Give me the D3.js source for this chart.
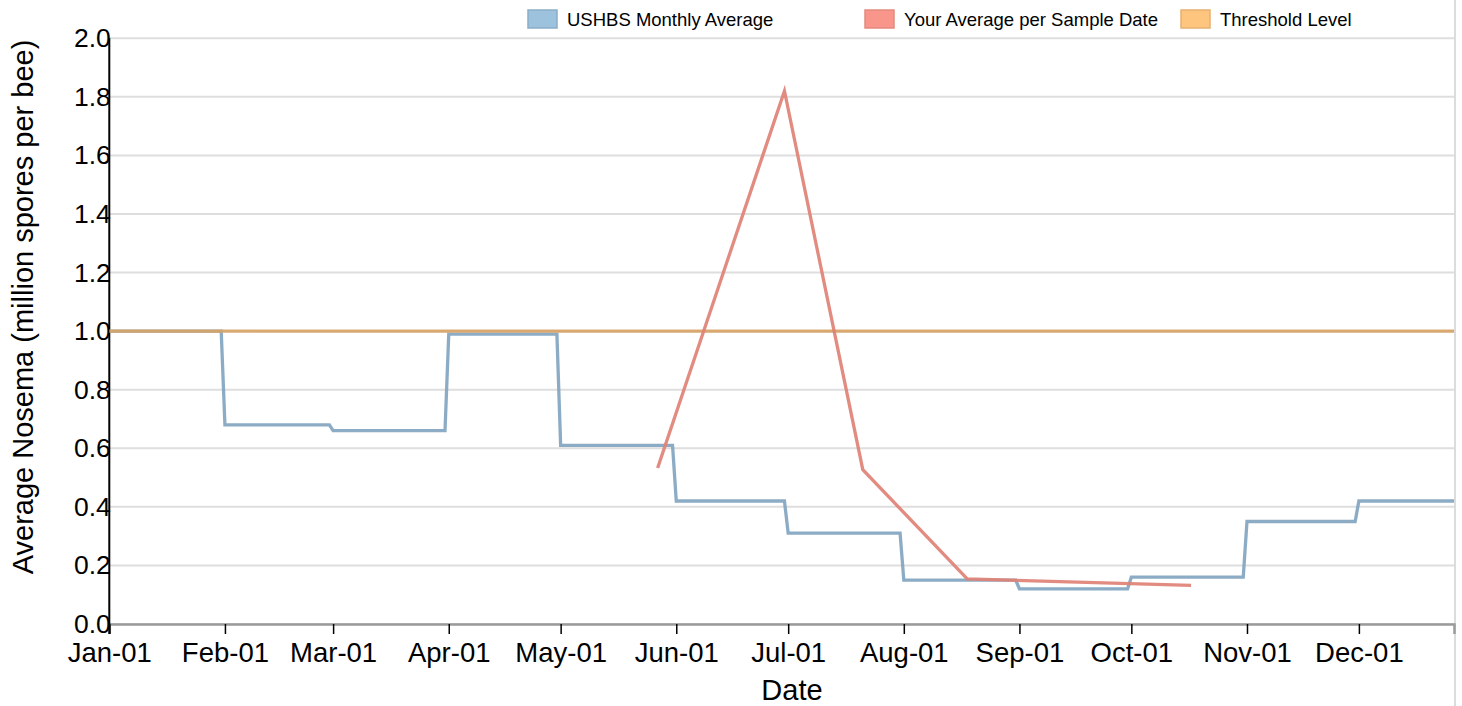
<!DOCTYPE html>
<html>
<head>
<meta charset="utf-8">
<script src="https://cdn.jsdelivr.net/npm/d3@7"></script>
<style>
  body { margin: 0; background: #fff; }
  svg text { font-family: "Liberation Sans", Arial, Helvetica, sans-serif; }
</style>
</head>
<body>
<div id="vis"></div>
<script>
// monthly USHBS averages (one value per month)
var months = ["2016-01","2016-02","2016-03","2016-04","2016-05","2016-06",
              "2016-07","2016-08","2016-09","2016-10","2016-11","2016-12"]
var monthlyAvg = [1.0, 0.68, 0.66, 0.99, 0.61, 0.42, 0.31, 0.15, 0.12, 0.16, 0.35, 0.42]

// your samples
var sampleDates = ["2016-05-27","2016-06-30","2016-07-21","2016-08-18","2016-10-17"]
var sampleAvg = [0.533, 1.82, 0.527, 0.154, 0.132]

var threshold = 1.0
var yTicks = [0, 0.2, 0.4, 0.6, 0.8, 1.0, 1.2, 1.4, 1.6, 1.8, 2.0]
var legendLabels = ["USHBS Monthly Average", "Your Average per Sample Date", "Threshold Level"]

var W = 1462, H = 706
var margin = {left:109.3, right:8, top:38.3, bottom:82}
var parseDay = d3.timeParse("%Y-%m-%d")
var parseMonth = d3.timeParse("%Y-%m")

// each month is drawn flat from its first to its last day
var ushbs = []
months.forEach(function(m,i){
    var start = parseMonth(m)
    var end = d3.timeDay.offset(d3.timeMonth.offset(start,1),-1)
    ushbs.push({date:start, value:monthlyAvg[i]})
    ushbs.push({date:end, value:monthlyAvg[i]})
})
var samples = sampleDates.map(function(d,i){ return {date:parseDay(d), value:sampleAvg[i]} })

var svg = d3.select("#vis").append("svg").attr("width",W).attr("height",H)

var x = d3.scaleTime()
    .domain([parseDay("2016-01-01"), new Date(2016,11,26,12)])
    .range([margin.left, W-margin.right])
var y = d3.scaleLinear().domain([0,2]).range([H-margin.bottom, margin.top])

svg.append("defs").append("clipPath").attr("id","plot")
  .append("rect").attr("x",margin.left).attr("y",0)
  .attr("width",W-margin.right-margin.left).attr("height",H)

//grid
svg.append("g").selectAll("line").data(yTicks).enter().append("line")
    .attr("x1",margin.left).attr("x2",W-margin.right)
    .attr("y1",function(d){return y(d)}).attr("y2",function(d){return y(d)})
    .attr("stroke","#dedede").attr("stroke-width",2)

//right border
svg.append("line").attr("x1",W-margin.right+1).attr("x2",W-margin.right+1)
    .attr("y1",0).attr("y2",H).attr("stroke","#dcdcdc").attr("stroke-width",2)

//x axis
var xAxis = svg.append("g").attr("transform","translate(0,"+(H-margin.bottom)+")")
    .call(d3.axisBottom(x).ticks(d3.timeMonth.every(1)).tickFormat(d3.timeFormat("%b-%d"))
        .tickSize(10).tickPadding(8))
xAxis.select(".domain").attr("stroke","#9a9a9a").attr("stroke-width",2.5)
xAxis.selectAll(".tick line").attr("stroke","#000").attr("stroke-width",1.5)
xAxis.selectAll("text").attr("font-size",27.5).attr("fill","#000")

//y axis
var yAxis = svg.append("g").attr("transform","translate("+margin.left+",0)")
    .call(d3.axisLeft(y).tickValues(yTicks).tickFormat(d3.format(".1f")).tickSize(0).tickPadding(-1.5))
yAxis.select(".domain").attr("stroke","#000").attr("stroke-width",2)
    .attr("d","M0,"+y(2)+"V"+(y(0)+10))
yAxis.selectAll("text").attr("font-size",26.5).attr("fill","#000")

//titles
svg.append("text").attr("x",792).attr("y",700).attr("text-anchor","middle")
    .attr("font-size",29).text("Date")
svg.append("text").attr("transform","translate(33,307) rotate(-90)").attr("text-anchor","middle")
    .attr("font-size",29).text("Average Nosema (million spores per bee)")

var line = d3.line().x(function(d){return x(d.date)}).y(function(d){return y(d.value)})

var plot = svg.append("g").attr("clip-path","url(#plot)")
plot.append("path").datum(ushbs).attr("d",line)
    .attr("fill","none").attr("stroke","#7fa3bf").attr("stroke-width",3.3).attr("opacity",0.9)
plot.append("line").attr("x1",margin.left).attr("x2",W-margin.right)
    .attr("y1",y(threshold)).attr("y2",y(threshold))
    .attr("stroke","#d9a366").attr("stroke-width",3.3).attr("opacity",0.9)
plot.append("path").datum(samples).attr("d",line)
    .attr("fill","none").attr("stroke","#df8175").attr("stroke-width",3.3).attr("opacity",0.92)

//legend
var legendX = [528, 865, 1181]
var swatchFill = ["#9cc2dd","#f8968b","#fec57f"]
var swatchStroke = ["#8aadc7","#e48a7f","#e6b070"]
var leg = svg.append("g").selectAll("g").data(legendLabels).enter().append("g")
    .attr("transform",function(d,i){return "translate("+legendX[i]+",10)"})
leg.append("rect").attr("width",29).attr("height",18)
    .attr("fill",function(d,i){return swatchFill[i]})
    .attr("stroke",function(d,i){return swatchStroke[i]}).attr("stroke-width",1.5)
leg.append("text").attr("x",39).attr("y",16).attr("font-size",18.5).text(function(d){return d})
</script>
</body>
</html>
